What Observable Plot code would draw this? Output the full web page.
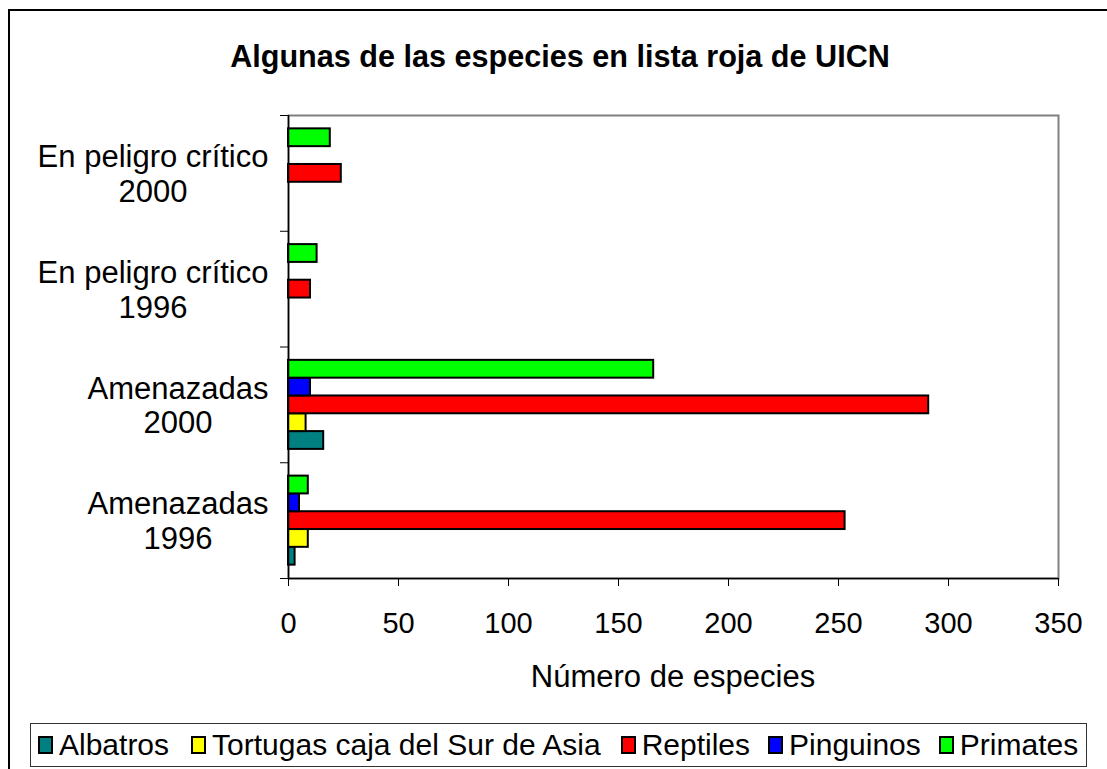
<!DOCTYPE html>
<html><head><meta charset="utf-8">
<script src="https://cdn.jsdelivr.net/npm/d3@7"></script>
<script src="https://cdn.jsdelivr.net/npm/@observablehq/plot@0.6"></script>
<style>
html,body{margin:0;padding:0;background:#fff;width:1107px;height:769px;overflow:hidden}
#wrap{position:relative;width:1107px;height:769px;font-family:Arial,"Liberation Sans",sans-serif;color:#000}
#outer{position:absolute;left:8px;top:9px;width:1300px;height:900px;border:2px solid #000;box-sizing:border-box}
#chart{position:absolute;left:0;top:0}
#title{position:absolute;left:0;top:41px;width:1120px;text-align:center;font-weight:bold;font-size:30.6px;line-height:30px;white-space:nowrap}
#xlabel{position:absolute;left:288px;width:770px;top:661px;text-align:center;font-size:31px;line-height:31px;white-space:nowrap}
#legend{position:absolute;left:30px;top:723px;width:1057px;height:44px;border:1.5px solid #333;box-sizing:border-box;display:flex;align-items:center}
.item{display:flex;align-items:center;font-size:30px;line-height:30px;white-space:nowrap}
.sw{width:15px;height:18px;border:2px solid #000;box-sizing:border-box;margin-right:6px}
</style></head>
<body><div id="wrap"><div id="outer"></div><div id="chart"></div><div id="title"></div><div id="xlabel"></div><div id="legend"></div></div>
<script>
const titleText = "Algunas de las especies en lista roja de UICN";
const xLabel = "Número de especies";
const groupNames = ["En peligro crítico","En peligro crítico","Amenazadas","Amenazadas"];
const groupYears = ["2000","1996","2000","1996"];
const series = ["Albatros","Tortugas caja del Sur de Asia","Reptiles","Pinguinos","Primates"];
const colors = ["#008080","#FFFF00","#FF0000","#0000FF","#00FF00"];
const albatros = [0,0,16,3];
const tortugas = [0,0,8,9];
const reptiles = [24,10,291,253];
const pinguinos = [0,0,10,5];
const primates = [19,13,166,9];
const xTicks = [0,50,100,150,200,250,300,350];
const legendGaps = [7,22,20,18,18];

const values = [albatros,tortugas,reptiles,pinguinos,primates];
const gapWidth = 1.5; // Excel gap width 150%
const slots = series.length + gapWidth;
const rows = [];
values.forEach((vals, s) => vals.forEach((v, g) => {
  if (v > 0) {
    const slot = series.length - 1 - s;
    const y1 = g + (gapWidth / 2 + slot) / slots;
    rows.push({series: series[s], value: v, y1, y2: y1 + 1 / slots});
  }
}));

const labelFont = 31;
const fontFamily = 'Arial, "Liberation Sans", sans-serif';
const ctx = document.createElement("canvas").getContext("2d");
ctx.font = labelFont + "px " + fontFamily;
// each wrapped category label is a block right-aligned to the axis, its lines centred in the block
const labelAxes = groupNames.map((name, i) => {
  const w = Math.max(ctx.measureText(name).width, ctx.measureText(groupYears[i]).width);
  return Plot.axisY({ticks: [i + 0.5], tickSize: 0, tickPadding: 0, dx: -(20 + w / 2), textAnchor: "middle",
    lineHeight: 1.12, fontSize: labelFont, label: null, tickFormat: () => name + "\n" + groupYears[i]});
});

const chart = Plot.plot({
  width: 1107, height: 769,
  marginLeft: 288, marginRight: 49, marginTop: 115, marginBottom: 191,
  style: {fontFamily, color: "#000", background: "transparent", overflow: "visible"},
  x: {domain: [0, 350]},
  y: {domain: [0, groupNames.length], reverse: true},
  color: {domain: series, range: colors},
  marks: [
    Plot.frame({stroke: "#808080", strokeWidth: 2}),
    Plot.rect(rows, {x1: 0, x2: "value", y1: "y1", y2: "y2", fill: "series", stroke: "#000", strokeWidth: 2}),
    Plot.ruleX([0], {stroke: "#000", strokeWidth: 1.5}),
    Plot.ruleY([groupNames.length], {stroke: "#000", strokeWidth: 1.5}),
    Plot.axisX({ticks: xTicks, tickSize: 8, tickPadding: 26, fontSize: 29, label: null, tickFormat: d => String(d)}),
    Plot.axisY({ticks: d3.range(groupNames.length + 1), tickSize: 8, tickFormat: () => "", label: null}),
    ...labelAxes
  ]
});
document.getElementById("chart").appendChild(chart);
document.getElementById("title").textContent = titleText;
document.getElementById("xlabel").textContent = xLabel;
const legend = document.getElementById("legend");
series.forEach((s, i) => {
  const it = document.createElement("div");
  it.className = "item";
  it.style.marginLeft = legendGaps[i] + "px";
  const sw = document.createElement("div");
  sw.className = "sw";
  sw.style.background = colors[i];
  const tx = document.createElement("span");
  tx.textContent = s;
  it.appendChild(sw); it.appendChild(tx);
  legend.appendChild(it);
});
</script></body></html>
